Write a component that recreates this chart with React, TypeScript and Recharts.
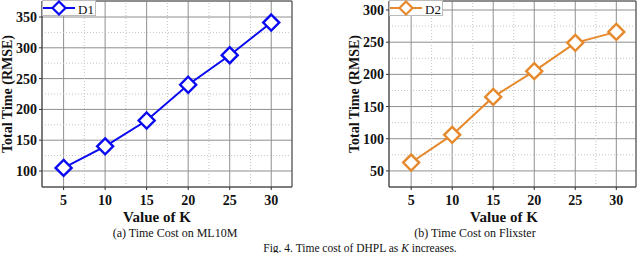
import { CartesianGrid, Line, LineChart, ReferenceLine, XAxis, YAxis } from "recharts";

const kValues = [5, 10, 15, 20, 25, 30];
const d1Time = [105, 140, 182, 240, 288, 341];
const d2Time = [63, 106, 165, 205, 249, 266];

const xTicks = [5, 10, 15, 20, 25, 30];
const xMinor = [7.5, 12.5, 17.5, 22.5, 27.5];
const yTicksA = [100, 150, 200, 250, 300, 350];
const yMinorA = [125, 175, 225, 275, 325];
const yTicksB = [50, 100, 150, 200, 250, 300];
const yMinorB = [75, 125, 175, 225, 275];

const dataA = kValues.map((k, i) => ({ k, time: d1Time[i] }));
const dataB = kValues.map((k, i) => ({ k, time: d2Time[i] }));

const FONT = "'Liberation Serif', 'Times New Roman', serif";
const BLUE = "#0a0af2";
const ORANGE = "#e5892c";

const tickStyle = { fontFamily: FONT, fontSize: 14, fontWeight: 700, fill: "#111" };

function diamond(color: string) {
  return (props: any) => {
    const { cx, cy, index } = props;
    const r = 8;
    return (
      <polygon
        key={`dot-${index}`}
        points={`${cx},${cy - r} ${cx + r},${cy} ${cx},${cy + r} ${cx - r},${cy}`}
        fill="#fff"
        stroke={color}
        strokeWidth={2.4}
      />
    );
  };
}

interface PanelProps {
  data: { k: number; time: number }[];
  yDomain: [number, number];
  yTicks: number[];
  yMinor: number[];
  xDomain: [number, number];
  color: string;
  width: number;
  marginRight: number;
}

function Panel({ data, yDomain, yTicks, yMinor, xDomain, color, width, marginRight }: PanelProps) {
  return (
    <LineChart
      width={width}
      height={215}
      data={data}
      margin={{ top: 1, right: marginRight, left: 12, bottom: 0 }}
      style={{ fontFamily: FONT }}
    >
      <CartesianGrid stroke="#8f8f8f" strokeWidth={1} />
      {xMinor.map((v) => (
        <ReferenceLine key={`mx${v}`} x={v} stroke="#c4c4c4" strokeDasharray="1 2" />
      ))}
      {yMinor.map((v) => (
        <ReferenceLine key={`my${v}`} y={v} stroke="#c4c4c4" strokeDasharray="1 2" />
      ))}
      <ReferenceLine x={xDomain[1]} stroke="#555" />
      <ReferenceLine y={yDomain[1]} stroke="#555" />
      <XAxis
        dataKey="k"
        type="number"
        domain={xDomain}
        ticks={xTicks}
        height={28}
        tickSize={3}
        tickMargin={5}
        tick={tickStyle}
        axisLine={{ stroke: "#333" }}
        tickLine={{ stroke: "#333" }}
        allowDataOverflow
      />
      <YAxis
        type="number"
        domain={yDomain}
        ticks={yTicks}
        width={30}
        tickSize={3}
        tickMargin={2}
        tick={tickStyle}
        axisLine={{ stroke: "#333" }}
        tickLine={{ stroke: "#333" }}
        allowDataOverflow
      />
      <Line
        type="linear"
        dataKey="time"
        stroke={color}
        strokeWidth={2}
        dot={diamond(color)}
        isAnimationActive={false}
      />
    </LineChart>
  );
}

function LegendBox({ x, color, name }: { x: number; color: string; name: string }) {
  const cx = x + 17;
  const r = 6.5;
  return (
    <g>
      <rect x={x + 0.5} y={0.5} width={53} height={15} fill="#fff" stroke="#bbb" />
      <line x1={x + 1} y1={8} x2={x + 33} y2={8} stroke={color} strokeWidth={2} />
      <polygon
        points={`${cx},${8 - r} ${cx + r},8 ${cx},${8 + r} ${cx - r},8`}
        fill="#fff"
        stroke={color}
        strokeWidth={2.2}
      />
      <text x={x + 36} y={13.5} fontFamily={FONT} fontSize={13} fill="#111">
        {name}
      </text>
    </g>
  );
}

export default function App() {
  return (
    <div style={{ position: "absolute", left: 0, top: 0, width: 640, height: 253, background: "#fff" }}>
      <div style={{ position: "absolute", left: 0, top: 0 }}>
        <Panel
          data={dataA}
          yDomain={[74, 376]}
          yTicks={yTicksA}
          yMinor={yMinorA}
          xDomain={[2.4, 32.5]}
          color={BLUE}
          width={300}
          marginRight={8}
        />
      </div>
      <div style={{ position: "absolute", left: 347, top: 0 }}>
        <Panel
          data={dataB}
          yDomain={[25, 314]}
          yTicks={yTicksB}
          yMinor={yMinorB}
          xDomain={[2.3, 32.4]}
          color={ORANGE}
          width={293}
          marginRight={4}
        />
      </div>
      <svg
        width={640}
        height={253}
        style={{ position: "absolute", left: 0, top: 0, pointerEvents: "none" }}
      >
        <LegendBox x={42} color={BLUE} name="D1" />
        <LegendBox x={389} color={ORANGE} name="D2" />
        <g fontFamily={FONT} fill="#111">
          <text
            x={12}
            y={94}
            transform="rotate(-90 12 94)"
            textAnchor="middle"
            fontSize={14}
            fontWeight={700}
          >
            Total Time (RMSE)
          </text>
          <text
            x={359}
            y={94}
            transform="rotate(-90 359 94)"
            textAnchor="middle"
            fontSize={14}
            fontWeight={700}
          >
            Total Time (RMSE)
          </text>
          <text x={157} y={222} textAnchor="middle" fontSize={15} fontWeight={700}>
            Value of K
          </text>
          <text x={504} y={222} textAnchor="middle" fontSize={15} fontWeight={700}>
            Value of K
          </text>
          <text x={175} y={237} textAnchor="middle" fontSize={12}>
            (a) Time Cost on ML10M
          </text>
          <text x={475} y={237} textAnchor="middle" fontSize={12}>
            (b) Time Cost on Flixster
          </text>
          <text x={360} y={252} textAnchor="middle" fontSize={11.5}>
            Fig. 4. Time cost of DHPL as <tspan fontStyle="italic">K</tspan> increases.
          </text>
        </g>
      </svg>
    </div>
  );
}
